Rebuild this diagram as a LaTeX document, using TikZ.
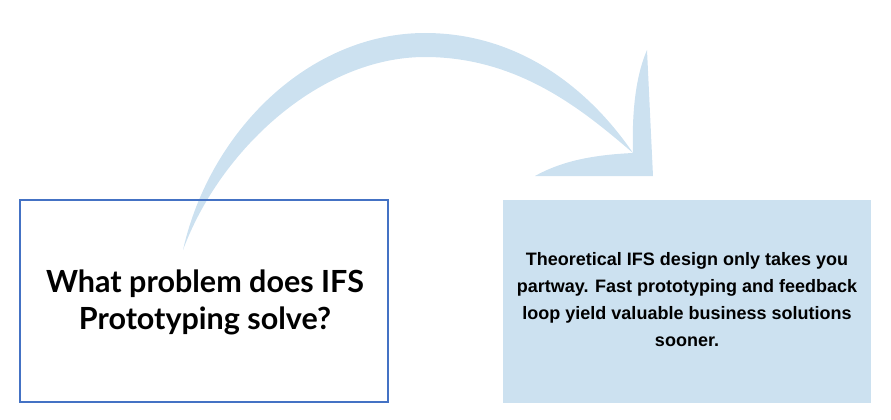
\documentclass[tikz,border=0pt]{standalone}
\usepackage{fontspec}
\newfontfamily\qfont{Lato}
\newfontfamily\afont{Liberation Sans}
\definecolor{arrowblue}{HTML}{CCE1F0}
\definecolor{boxline}{HTML}{4472C4}
\begin{document}
\begin{tikzpicture}[x=1pt,y=-1pt,
  qbox/.style={draw=boxline,line width=1.5pt,minimum width=368pt,minimum height=202pt,inner sep=0pt,align=center},
  abox/.style={fill=arrowblue,minimum width=368pt,minimum height=203pt,inner sep=0pt,align=center},
  swoosh/.style={fill=arrowblue}]
\useasboundingbox (0,0) rectangle (891,420);
\node[abox] (a) at (687,301.5) {};
% arrow shaft
\fill[swoosh] (183,250) .. controls (210,130) and (310,33) .. (425,33)
  .. controls (520,33) and (590,90) .. (633,153)
  .. controls (585,112) and (520,57) .. (425,57)
  .. controls (320,57) and (220,150) .. (183,250) -- cycle;
% arrow head
\fill[swoosh] (647,50) -- (653,176) -- (535,176) .. controls (560,162) and (590,155) .. (633,153) .. controls (632,120) and (634,80) .. (647,50) -- cycle;
\node[qbox] (q) at (204,301) {};
\node[font=\qfont\bfseries\fontsize{30.5}{37}\selectfont,align=center] (qt) at (205,302) {What problem does IFS\\Prototyping solve?};
\node[font=\afont\bfseries\fontsize{18}{27}\selectfont,align=center] (at) at (687,300) {Theoretical IFS design only takes you\\partway. Fast prototyping and feedback\\loop yield valuable business solutions\\sooner.};
\end{tikzpicture}
\end{document}
